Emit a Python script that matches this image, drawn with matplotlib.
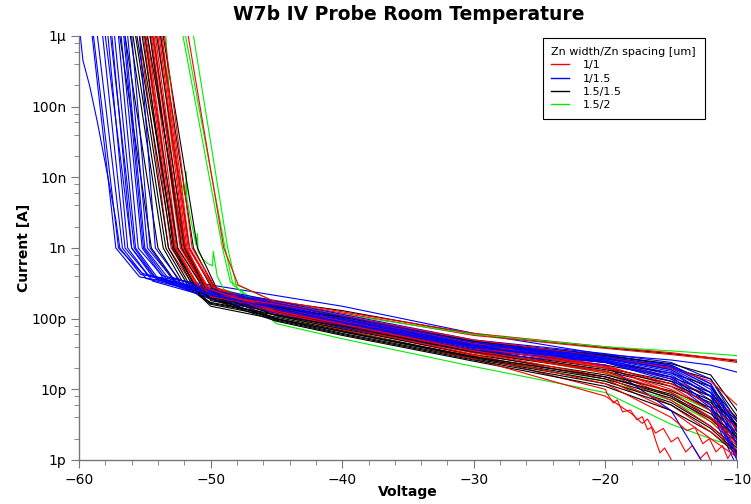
import numpy as np
import matplotlib.pyplot as plt
from matplotlib.ticker import EngFormatter, LogLocator, MultipleLocator, NullFormatter
from matplotlib.lines import Line2D

GRID_V = [-50, -45, -40, -30, -20, -15, -12, -10]
nan = float('nan')

# ---- 1/1 (red) ----
red_v_top = [-55.4, -55.1, -55.0, -54.8, -54.6, -54.5, -54.3, -54.2, -54.0, -53.8, -53.7, -53.5, -51.7,
             -54.9, -54.4, -53.9]
red_v_1n = [-53.2, -53.0, -52.8, -52.6, -52.5, -52.3, -52.2, -52.0, -51.9, -51.7, -51.6, -51.4, -49.0,
            -52.7, -52.1, -51.8]
red_v_knee = [-51.5, -51.2, -51.0, -50.9, -50.7, -50.5, -50.4, -50.2, -50.1, -49.9, -49.8, -49.6, -47.9,
              -51.0, -50.6, -50.3]
red_i_knee = [330, 320, 300, 290, 310, 280, 300, 270, 260, 290, 280, 270, 300, 300, 290, 270]
red_leak = [  # pA, one row per GRID_V entry
    [250, 240, 215, 200, 210, nan, nan, nan, nan, nan, nan, nan, nan, 220, 205, nan],
    [180, 172, 150, 135, 145, 125, 135, 120, 112, 140, 130, 122, 170, 160, 140, 128],
    [125, 120, 100, 88, 95, 80, 86, 75, 70, 90, 82, 78, 110, 110, 92, 84],
    [62, 58, 45, 38, 42, 33, 36, 30, 27, 40, 34, 31, 45, 50, 39, 35],
    [40, 38, 25, 18, 22, 14, 17, 10, 8, 20, 15, 12, 21, 29, 21, 18],
    [33, 31, 14, 8, 11, 5, 7, nan, nan, 10, 6, 4, 9, 20, 12, 9],
    [28, 27, 8, 3.5, 5, 2, 3, nan, nan, 5, 2.5, nan, 4, 13, 6, 4],
    [26, 24, 4, 1.6, 2.5, 1.1, 1.4, nan, nan, 2, 1.3, nan, 2, 6, 2.8, 1.7],
]
# noisy tails of three red curves (index 7, 8, 11)
red_tail1_v = [-19.9, -19.4, -19.1, -18.7, -18.1, -17.6, -17.2, -16.8, -16.5, -16.1, -15.85, -15.5, -15.1, -14.7]
red_tail1_i = [8.9, 6.4, 7.1, 4.8, 5.1, 3.7, 4.1, 2.7, 2.9, 1.7, 1.26, 1.48, 1.1, 0.8]
red_tail2_v = [-18.0, -17.2, -16.8, -16.2, -15.6, -15.0, -14.5, -13.9, -13.4, -12.8, -12.3, -11.8]
red_tail2_i = [4.5, 3.3, 3.8, 2.4, 2.8, 1.8, 2.1, 1.3, 1.6, 1.05, 1.3, 0.8]
red_tail3_v = [-13.8, -13.2, -12.6, -12.1, -11.6, -11.1, -10.7, -10.3, -10.0]
red_tail3_i = [2.6, 2.9, 1.7, 2.0, 1.3, 1.6, 1.05, 1.4, 1.1]

# ---- 1/1.5 (blue) ----
blue_v_top = [-59.9, -59.0, -58.9, -58.6, -58.2, -57.8, -57.5, -57.3, -57.0, -56.8, -56.5, -56.3, -56.0, -55.4,
              -58.0, -57.6, -56.6]
blue_v_1n = [-56.9, -57.2, -57.0, -56.7, -56.5, -56.3, -56.0, -55.7, -55.5, -55.2, -55.0, -54.8, -54.6, -54.2,
             -56.0, -55.8, -55.1]
blue_v_knee = [-55.3, -55.4, -55.2, -54.9, -54.7, -54.4, -54.2, -53.9, -53.7, -53.4, -53.2, -53.0, -52.8, -52.4,
               -54.4, -54.1, -53.3]
blue_i_knee = [420, 390, 440, 370, 400, 340, 380, 350, 410, 330, 370, 390, 340, 360, 390, 360, 350]
blue_leak = [
    [300, 260, 240, 220, 250, 200, 230, 210, 270, 190, 230, 250, 210, 240, 255, 225, 215],
    [nan] * 17,
    [150, 110, 100, 90, 105, 80, 95, 85, 115, 75, 92, 100, 82, 98, 108, 88, 90],
    [62, 48, 45, 40, 47, 36, 42, 38, 50, 34, 41, 44, 36, 43, 46, 39, 40],
    [31, 31, 29, 26, 30, 24, 28, 25, 32, 22, 27, 29, 24, 28, 29, 25, 26],
    [26, 22, 20, 16, 22, 13, 19, 15, 24, 5, 18, 21, 14, 19, 21, 15, 17],
    [22, 12, 10, 7, 12, 5, 9, 6, 14, 0.6, 8, 11, 5.5, 9, 11, 6, 8],
    [17.5, 3, 2.2, 1.3, 2.8, 0.8, 1.9, 1.1, 3.5, 0.2, 1.6, 2.5, 1.0, 2.0, 2.6, 1.2, 1.7],
]
# the leftmost blue curve bends slowly at the top
blue_lead_v = [-59.9, -59.7, -59.2, -58.6, -57.7, -57.2, -56.9]
blue_lead_i = [1e6, 4.5e5, 2e5, 6e4, 8000, 2500, 1000]

# ---- 1.5/1.5 (black) ----
black_v_top = [-56.9, -56.5, -56.1, -55.7, -55.6, -55.4, -55.0, -54.6, -54.4, -54.1, -53.8, -53.6,
               -55.9, -55.2, -54.8]
black_v_1n = [-54.5, -54.0, -53.6, -53.2, -52.9, -52.7, -52.5, -52.2, -51.9, -51.6, -51.3, -51.0,
              -53.4, -52.8, -52.0]
black_v_knee = [-52.6, -52.2, -51.8, -51.3, -51.0, -50.8, -50.6, -50.3, -50.0, -49.7, -49.4, -49.1,
                -51.6, -50.9, -50.2]
black_i_knee = [320, 300, 260, 240, 220, 210, 280, 250, 190, 230, 210, 180, 270, 230, 200]
black_leak = [
    [240, 210, 190, 170, 160, 150, 200, 180, nan, nan, nan, nan, 200, 165, nan],
    [175, 150, 130, 115, 105, 98, 140, 125, 92, 110, 100, 95, 145, 112, 100],
    [130, 100, 85, 75, 68, 62, 90, 80, 58, 72, 65, 60, 105, 78, 66],
    [60, 45, 38, 33, 29, 27, 41, 36, 25, 31, 28, 26, 48, 34, 29],
    [39, 27, 22, 18, 15, 13, 24, 20, 11, 16, 14, 12, 30, 19, 15],
    [32, 20, 15, 11, 8, 6.5, 17, 13, 5, 9.5, 7.5, 6, 23, 12, 8.5],
    [28, 14, 9, 6.5, 4, 3, 11, 8, 2.5, 5.5, 3.8, 2.8, 16, 7, 4.5],
    [25, 4.2, 3.5, 2.8, 2, 1.5, 3.8, 3, 1.2, 2.3, 1.8, 1.3, 5, 3.2, 2.1],
]

# ---- 1.5/2 (green) ----
green_v_top = [-53.4, -52.1, -51.9, -51.3]
green_v_1n = [-51.0, -49.1, -48.9, -48.7]
green_v_knee = [-49.0, -48.5, -48.3, -48.0]
green_i_knee = [260, 330, 300, 270]
green_leak = [
    [nan, nan, nan, nan],
    [150, 170, 110, 85],
    [90, 115, 70, 52],
    [35, 60, 28, 21],
    [17, 40, 13, 9],
    [9, 35, 7, 3.2],
    [5, 32, 3.5, 2],
    [3, 30, 2.3, 1.5],
]
# the first green curve is spiky on its way down
green_lead_v = [-53.4, -52.9, -52.3, -51.9, -51.85, -51.8, -51.5, -51.1, -51.0, -50.95, -50.6, -50.2, -49.85, -49.8, -49.5, -49.0]
green_lead_i = [1e6, 27000, 9000, 5500, 12000, 5000, 2500, 1100, 1600, 900, 700, 600, 560, 900, 400, 260]

LEGEND_LABELS = ['1/1', '1/1.5', '1.5/1.5', '1.5/2']
COLORS = ['#ff0000', '#0000ff', '#000000', '#00ee00']


def build_curve(v_top, v_1n, v_knee, i_knee, leak_col, lead=None, tail=None):
    if lead is None:
        vs = [v_top, v_1n, v_knee]
        cur = [1e6, 1000, i_knee]
    else:
        vs = list(lead[0])
        cur = list(lead[1])
        if lead[0][-1] < v_knee:
            vs.append(v_knee)
            cur.append(i_knee)
    for v, i in zip(GRID_V, leak_col):
        if v > vs[-1] and not np.isnan(i):
            vs.append(v)
            cur.append(i)
    if tail is not None:
        vs += list(tail[0])
        cur += list(tail[1])
    return np.array(vs), np.array(cur) * 1e-12


def group_curves(v_top, v_1n, v_knee, i_knee, leak, leads=None, tails=None):
    leads = leads or {}
    tails = tails or {}
    out = []
    for k in range(len(v_top)):
        col = [row[k] for row in leak]
        out.append(build_curve(v_top[k], v_1n[k], v_knee[k], i_knee[k], col,
                               leads.get(k), tails.get(k)))
    return out


groups = [
    group_curves(red_v_top, red_v_1n, red_v_knee, red_i_knee, red_leak,
                 tails={7: (red_tail1_v, red_tail1_i), 8: (red_tail2_v, red_tail2_i),
                        11: (red_tail3_v, red_tail3_i)}),
    group_curves(blue_v_top, blue_v_1n, blue_v_knee, blue_i_knee, blue_leak,
                 leads={0: (blue_lead_v, blue_lead_i)}),
    group_curves(black_v_top, black_v_1n, black_v_knee, black_i_knee, black_leak),
    group_curves(green_v_top, green_v_1n, green_v_knee, green_i_knee, green_leak,
                 leads={0: (green_lead_v, green_lead_i)}),
]

fig = plt.figure(figsize=(7.51, 5.04), dpi=100)
ax = fig.add_axes([79 / 751, 1 - 460 / 504, (737 - 79) / 751, (460 - 36) / 504])

n_max = max(len(g) for g in groups)
for k in range(n_max):
    for g, color in zip([groups[1], groups[2], groups[0], groups[3]],
                        [COLORS[1], COLORS[2], COLORS[0], COLORS[3]]):
        if k < len(g):
            v, i = g[k]
            ax.plot(v, i, color=color, lw=0.8)

ax.set_yscale('log')
ax.set_xlim(-60, -10)
ax.set_ylim(1e-12, 1e-6)

ax.xaxis.set_major_locator(MultipleLocator(10))
ax.xaxis.set_minor_locator(MultipleLocator(2))
ax.yaxis.set_major_locator(LogLocator(base=10, numticks=10))
ax.yaxis.set_minor_locator(LogLocator(base=10, subs=[2, 4, 6, 8], numticks=10))
ax.yaxis.set_minor_formatter(NullFormatter())
ax.yaxis.set_major_formatter(EngFormatter(places=0, sep=''))

for s in ['top', 'right']:
    ax.spines[s].set_visible(False)
for s in ['left', 'bottom']:
    ax.spines[s].set_color('#777777')
    ax.spines[s].set_linewidth(1.0)
ax.tick_params(which='major', length=6, color='#777777', labelsize=10, direction='out', pad=3)
ax.tick_params(which='minor', length=3.5, color='#777777', direction='out')

ax.set_xlabel('Voltage', fontsize=10, fontweight='bold', labelpad=-1)
ax.set_ylabel('Current [A]', fontsize=10, fontweight='bold', labelpad=0)
fig.text(409 / 751, 1 - 14 / 504, 'W7b IV Probe Room Temperature', ha='center', va='center',
         fontsize=13.5, fontweight='bold')

handles = [Line2D([], [], color=c, lw=1) for c in COLORS]
leg = ax.legend(handles, LEGEND_LABELS, title='Zn width/Zn spacing [um]', loc='upper right',
                bbox_to_anchor=(705 / 751, 1 - 38 / 504), bbox_transform=fig.transFigure,
                fontsize=8, title_fontsize=8, fancybox=False, framealpha=1,
                edgecolor='black', borderaxespad=0, labelspacing=0.3, handlelength=1.6,
                handletextpad=1.2, borderpad=0.8, alignment='left')
leg.get_frame().set_linewidth(0.8)

fig.savefig('out.png', dpi=100)
